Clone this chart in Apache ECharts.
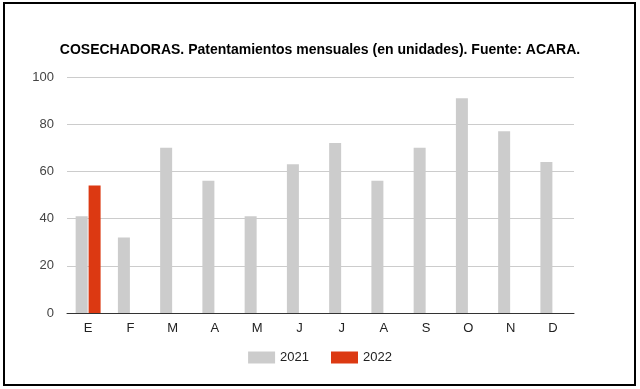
<!DOCTYPE html>
<html><head><meta charset="utf-8">
<script src="https://cdn.jsdelivr.net/npm/echarts@6/dist/echarts.min.js"></script>
<style>html,body{margin:0;padding:0;background:#fff}#c{width:640px;height:389px}</style>
</head><body><div id="c"></div>
<script>
const months = ['E','F','M','A','M','J','J','A','S','O','N','D'];
const y2021 = [41,32,70,56,41,63,72,56,70,91,77,64];
const y2022 = [54,null,null,null,null,null,null,null,null,null,null,null];
const titleText = 'COSECHADORAS. Patentamientos mensuales (en unidades). Fuente: ACARA.';
const chart = echarts.init(document.getElementById('c'));
chart.setOption({
  animation:false,
  backgroundColor:'#fff',
  title:{text:titleText,left:'center',top:38,textStyle:{fontFamily:'Liberation Sans, Arial',fontSize:14,fontWeight:'bold',color:'#000'}},
  legend:{bottom:20,left:'center',itemWidth:27,itemHeight:12,itemGap:22,icon:'rect',
    textStyle:{fontFamily:'Liberation Sans, Arial',fontSize:13,color:'#222'},
    data:['2021','2022']},
  grid:{left:67,right:66,top:77,bottom:76},
  xAxis:{type:'category',data:months,axisTick:{show:false},
    axisLine:{lineStyle:{color:'#333',width:1}},
    axisLabel:{fontFamily:'Liberation Sans, Arial',fontSize:13,color:'#222',margin:9}},
  yAxis:{type:'value',min:0,max:100,interval:20,
    splitLine:{lineStyle:{color:'#ccc'}},
    axisLabel:{fontFamily:'Liberation Sans, Arial',fontSize:13,color:'#444',margin:13}},
  series:[
    {name:'2021',type:'bar',data:y2021,barWidth:12,barGap:'8%',itemStyle:{color:'#cccccc'}},
    {name:'2022',type:'bar',data:y2022,barWidth:12,itemStyle:{color:'#dc3912'}}
  ],
  graphic:[{type:'rect',shape:{x:4,y:3,width:631,height:382},style:{fill:null,stroke:'#000',lineWidth:2},z:100}]
});
</script></body></html>
